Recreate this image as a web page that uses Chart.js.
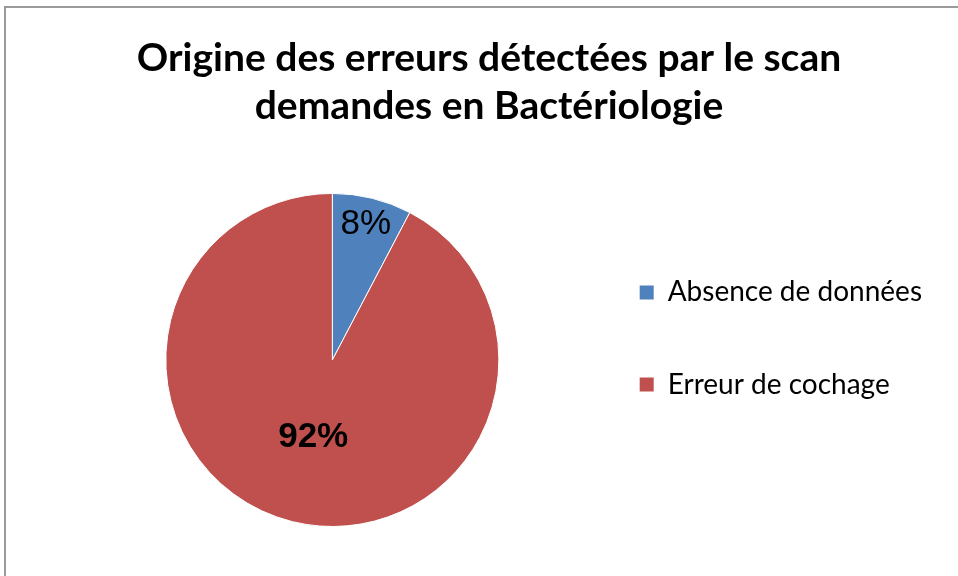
<!DOCTYPE html>
<html>
<head>
<meta charset="utf-8">
<script src="https://cdn.jsdelivr.net/npm/chart.js@4/dist/chart.umd.min.js"></script>
<style>
  html, body { margin: 0; padding: 0; background: #fff; }
  #wrap { position: relative; width: 958px; height: 576px; overflow: hidden; }
  #frame { position: absolute; left: 4px; top: 6px; width: 1000px; height: 640px;
           border: 2px solid #9a9a9a; box-sizing: border-box; }
  #chart { position: absolute; left: 0; top: 0; }
</style>
</head>
<body>
<div id="wrap">
  <div id="frame"></div>
  <canvas id="chart" width="958" height="576"></canvas>
</div>
<script>
// Data
const titleLines = ['Origine des erreurs détectées par le scan', 'demandes en Bactériologie'];
const categories = ['Absence de données', 'Erreur de cochage'];
const shares = [7.7, 92.3];
const sliceColors = ['#4f81bd', '#c0504d'];

// Draws the percentage labels inside the slices
const sliceLabels = {
  id: 'sliceLabels',
  afterDatasetsDraw(chart, args, opts) {
    const ctx = chart.ctx;
    const meta = chart.getDatasetMeta(0);
    const total = shares.reduce((a, b) => a + b, 0);
    meta.data.forEach((arc, i) => {
      const p = arc.getProps(['x', 'y', 'startAngle', 'endAngle', 'outerRadius'], true);
      const mid = (p.startAngle + p.endAngle) / 2;
      const r = p.outerRadius * opts.radius[i];
      const x = p.x + Math.cos(mid) * r;
      const y = p.y + Math.sin(mid) * r;
      ctx.save();
      ctx.font = opts.weight[i] + ' 35px "Liberation Sans", Arial, sans-serif';
      ctx.fillStyle = '#000';
      ctx.textAlign = 'center';
      ctx.textBaseline = 'middle';
      ctx.fillText(Math.round(shares[i] / total * 100) + '%', x, y);
      ctx.restore();
    });
  }
};

new Chart(document.getElementById('chart').getContext('2d'), {
  type: 'pie',
  data: {
    labels: categories,
    datasets: [{
      data: shares,
      backgroundColor: sliceColors,
      borderColor: '#ffffff',
      borderWidth: 1
    }]
  },
  options: {
    responsive: false,
    animation: false,
    layout: { padding: { top: 8, left: 46, right: 26, bottom: 49 } },
    plugins: {
      title: {
        display: true,
        text: titleLines,
        color: '#000',
        font: { family: 'Lato', size: 39, weight: 'bold', lineHeight: 1.23 },
        padding: { top: 26, bottom: 63 }
      },
      legend: {
        position: 'right',
        fullSize: false,
        labels: {
          color: '#000',
          boxWidth: 14,
          boxHeight: 14,
          padding: 21,
          font: { family: 'Lato', size: 28, lineHeight: 2.536 },
          generateLabels(chart) {
            return categories.map((c, i) => ({
              text: [c],
              fillStyle: sliceColors[i],
              strokeStyle: sliceColors[i],
              lineWidth: 0,
              hidden: false,
              index: i
            }));
          }
        }
      },
      tooltip: { enabled: false },
      sliceLabels: { radius: [0.84, 0.48], weight: ['normal', 'bold'] }
    }
  },
  plugins: [sliceLabels]
});
</script>
</body>
</html>
